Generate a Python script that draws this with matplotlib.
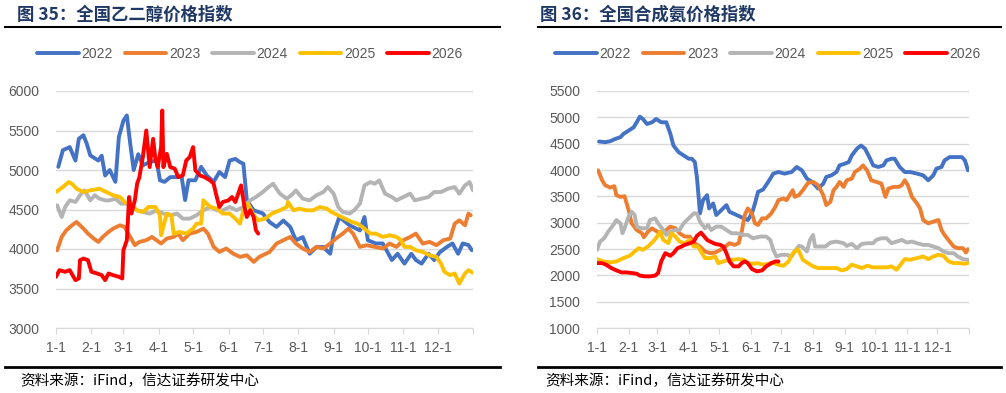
import numpy as np
import matplotlib
matplotlib.use("Agg")
import matplotlib.pyplot as plt

plt.rcParams['font.family'] = ['Liberation Sans', 'Noto Sans CJK SC', 'DejaVu Sans']

# x = day of year, y = index value
years = ['2022', '2023', '2024', '2025', '2026']
colors = ['#4472C4', '#ED7D31', '#B4B4B4', '#FFC000', '#FF0000']

month_days = [0, 31, 59, 90, 120, 151, 181, 212, 243, 273, 304, 334]
month_labels = ['1-1', '2-1', '3-1', '4-1', '5-1', '6-1', '7-1', '8-1', '9-1', '10-1', '11-1', '12-1']

# ---- 乙二醇 (ethylene glycol) ----
eg_2022 = [(2, 5040), (6, 5250), (12, 5290), (17, 5120), (20, 5395), (24, 5440), (27, 5330), (30, 5185),
           (37, 5120), (40, 5180), (43, 4930), (47, 5000), (52, 4850), (55, 5415), (59, 5625), (62, 5690),
           (65, 5330), (68, 5000), (72, 5200), (76, 5060), (82, 5100), (88, 5120), (91, 4870), (95, 4850),
           (100, 4910), (106, 4910), (110, 4910), (113, 4620), (116, 4870), (122, 4870), (127, 5040),
           (132, 4930), (138, 4850), (143, 4975), (148, 4910), (152, 5120), (157, 5140), (161, 5100),
           (164, 5080), (167, 4620), (173, 4490), (181, 4450), (187, 4340), (193, 4280), (199, 4360),
           (205, 4280), (210, 4110), (216, 4150), (222, 3940), (228, 4025), (234, 4025), (240, 3940),
           (243, 4195), (248, 4405), (257, 4300), (266, 4235), (270, 4405), (273, 4110), (280, 4070),
           (286, 4070), (294, 3860), (299, 3940), (305, 3815), (311, 3940), (315, 3860), (320, 3815),
           (326, 3940), (331, 3860), (336, 3960), (342, 4025), (347, 4070), (352, 3940), (356, 4070),
           (361, 4050), (364, 3985)]
eg_2023 = [(1, 3984), (5, 4153), (9, 4237), (14, 4300), (18, 4342), (24, 4258), (28, 4195), (33, 4132),
           (37, 4090), (41, 4153), (46, 4216), (50, 4258), (56, 4300), (60, 4279), (65, 4153), (69, 4048),
           (73, 4090), (79, 4111), (84, 4153), (88, 4111), (92, 4069), (97, 4132), (103, 4153), (107, 4195),
           (111, 4111), (117, 4195), (123, 4216), (129, 4258), (133, 4195), (138, 4027), (143, 3963),
           (149, 4006), (155, 3942), (161, 3900), (167, 3921), (173, 3837), (178, 3900), (187, 3963),
           (193, 4069), (199, 4111), (205, 4153), (210, 4069), (216, 4006), (222, 3963), (228, 4027),
           (234, 4006), (240, 4069), (245, 4132), (251, 4195), (256, 4258), (260, 4195), (266, 4027),
           (272, 4048), (279, 4027), (286, 4006), (292, 4069), (298, 4027), (304, 4111), (310, 4153),
           (315, 4195), (321, 4069), (327, 4090), (333, 4048), (339, 4111), (345, 4132), (349, 4321),
           (353, 4363), (358, 4300), (361, 4448), (363, 4427)]
eg_2024 = [(1, 4553), (5, 4405), (8, 4532), (12, 4616), (17, 4595), (21, 4680), (25, 4742), (30, 4616),
           (34, 4680), (38, 4637), (43, 4616), (47, 4616), (52, 4637), (57, 4574), (62, 4574), (66, 4532),
           (71, 4490), (76, 4469), (82, 4448), (88, 4490), (94, 4448), (100, 4427), (106, 4448), (111, 4384),
           (117, 4384), (123, 4427), (129, 4490), (135, 4532), (141, 4490), (146, 4490), (152, 4532),
           (158, 4490), (164, 4532), (170, 4616), (175, 4658), (181, 4721), (186, 4784), (190, 4826),
           (196, 4700), (202, 4637), (206, 4680), (210, 4742), (216, 4637), (222, 4616), (228, 4680),
           (234, 4721), (238, 4784), (243, 4700), (247, 4532), (251, 4469), (257, 4448), (261, 4490),
           (266, 4574), (270, 4805), (275, 4847), (279, 4826), (283, 4868), (288, 4700), (294, 4658),
           (298, 4616), (304, 4658), (310, 4700), (314, 4616), (320, 4637), (326, 4658), (331, 4721),
           (337, 4721), (343, 4763), (349, 4784), (353, 4700), (358, 4805), (362, 4847), (365, 4742)]
eg_2025 = [(0, 4721), (6, 4784), (11, 4847), (14, 4826), (18, 4763), (24, 4721), (30, 4742), (38, 4763),
           (44, 4721), (50, 4680), (56, 4658), (60, 4595), (66, 4553), (71, 4490), (76, 4469), (81, 4532),
           (87, 4532), (91, 4427), (92, 4174), (97, 4448), (101, 4427), (103, 4195), (108, 4216), (114, 4195),
           (120, 4258), (123, 4321), (127, 4321), (129, 4616), (135, 4532), (141, 4511), (146, 4448),
           (152, 4448), (157, 4384), (161, 4321), (164, 4490), (168, 4574), (173, 4427), (177, 4363),
           (183, 4384), (189, 4448), (196, 4490), (202, 4532), (203, 4595), (208, 4490), (213, 4511),
           (219, 4490), (225, 4490), (231, 4532), (237, 4511), (241, 4469), (247, 4427), (253, 4384),
           (259, 4342), (264, 4321), (270, 4258), (275, 4195), (280, 4195), (286, 4153), (292, 4174),
           (298, 4153), (302, 4111), (305, 4027), (310, 4027), (315, 3984), (321, 3963), (327, 3921),
           (333, 3900), (337, 3816), (340, 3711), (345, 3669), (349, 3690), (353, 3563), (358, 3690),
           (361, 3732), (365, 3698)]
eg_2026 = [(0, 3648), (3, 3732), (8, 3711), (12, 3732), (17, 3606), (20, 3627), (21, 3858), (24, 3879),
           (28, 3858), (31, 3711), (36, 3690), (40, 3669), (43, 3606), (46, 3690), (50, 3669), (55, 3648),
           (58, 3627), (59, 3984), (62, 4111), (64, 4658), (66, 4448), (69, 4616), (71, 4826), (73, 4910),
           (76, 5163), (79, 5500), (82, 5037), (85, 5395), (87, 5142), (89, 5037), (92, 5290), (93, 5753),
           (94, 5037), (97, 5205), (100, 5037), (104, 5016), (107, 4910), (111, 4931), (114, 5121),
           (117, 5163), (120, 5290), (122, 4995), (126, 4931), (130, 4910), (135, 4868), (138, 4826),
           (140, 4700), (143, 4532), (146, 4595), (151, 4616), (154, 4658), (157, 4595), (159, 4680),
           (162, 4805), (165, 4532), (167, 4405), (170, 4490), (173, 4405), (175, 4237), (177, 4195)]

# ---- 合成氨 (synthetic ammonia) ----
nh3_2022 = [(2, 4541), (8, 4528), (13, 4547), (18, 4591), (23, 4623), (26, 4686), (31, 4748), (36, 4811),
            (39, 4906), (42, 5013), (45, 4969), (49, 4874), (54, 4906), (58, 4969), (63, 4906), (68, 4906),
            (72, 4686), (75, 4465), (80, 4340), (85, 4277), (90, 4214), (93, 4214), (96, 4151), (98, 3868),
            (100, 3427), (101, 3176), (104, 3427), (108, 3522), (110, 3270), (114, 3364), (117, 3145),
            (122, 3239), (127, 3333), (130, 3207), (137, 3145), (144, 3082), (148, 3050), (152, 3176),
            (155, 3364), (158, 3585), (163, 3629), (168, 3774), (173, 3931), (178, 3962), (184, 3931),
            (191, 3962), (196, 4057), (201, 3994), (206, 3836), (211, 3774), (217, 3648), (222, 3742),
            (225, 3868), (230, 3899), (235, 3962), (238, 4088), (243, 4119), (247, 4151), (250, 4277),
            (255, 4403), (259, 4465), (263, 4403), (268, 4214), (271, 4088), (276, 4057), (281, 4088),
            (284, 4182), (289, 4214), (292, 4214), (297, 4057), (302, 3962), (307, 3962), (314, 3931),
            (320, 3899), (325, 3805), (330, 3899), (333, 4025), (338, 4057), (341, 4182), (346, 4245),
            (353, 4245), (358, 4245), (361, 4182), (364, 3994)]
nh3_2023 = [(1, 3994), (5, 3805), (8, 3711), (13, 3667), (17, 3692), (19, 3522), (23, 3490), (27, 3503),
            (31, 3239), (34, 2987), (39, 2861), (44, 2799), (46, 2723), (50, 2830), (54, 2893), (59, 2830),
            (63, 2799), (68, 2861), (72, 2924), (77, 2893), (81, 2799), (86, 2736), (91, 2736), (96, 2610),
            (101, 2547), (106, 2453), (111, 2421), (116, 2434), (121, 2484), (126, 2547), (130, 2610),
            (135, 2578), (139, 2610), (142, 2830), (145, 3145), (148, 3270), (152, 3176), (155, 2987),
            (158, 2956), (162, 3082), (166, 3082), (171, 3176), (175, 3302), (178, 3427), (183, 3459),
            (186, 3427), (189, 3522), (192, 3616), (194, 3490), (198, 3522), (202, 3616), (207, 3755),
            (212, 3774), (217, 3711), (222, 3522), (225, 3333), (229, 3396), (232, 3616), (235, 3679),
            (238, 3774), (242, 3679), (245, 3805), (250, 3836), (253, 3962), (258, 4025), (261, 4088),
            (265, 3994), (269, 3805), (274, 3774), (279, 3742), (283, 3490), (286, 3648), (291, 3679),
            (296, 3679), (299, 3711), (302, 3805), (305, 3711), (309, 3490), (314, 3364), (317, 3270),
            (320, 3050), (325, 2987), (330, 3019), (335, 3050), (338, 2861), (341, 2767), (346, 2641),
            (350, 2547), (354, 2516), (359, 2516), (362, 2434), (364, 2497)]
nh3_2024 = [(0, 2484), (3, 2641), (7, 2704), (11, 2830), (16, 2956), (19, 3050), (23, 2987), (25, 2799),
            (27, 2893), (31, 3113), (34, 3207), (37, 3145), (39, 2924), (44, 2893), (49, 2893), (52, 3050),
            (57, 3082), (60, 2987), (65, 2861), (68, 2767), (72, 2830), (77, 2861), (81, 2861), (85, 2987),
            (90, 3082), (95, 3176), (98, 3176), (101, 3019), (106, 2893), (109, 2956), (112, 2861),
            (117, 2924), (122, 2924), (127, 2861), (132, 2799), (137, 2799), (144, 2767), (148, 2767),
            (153, 2704), (160, 2736), (166, 2736), (170, 2673), (173, 2484), (176, 2358), (181, 2390),
            (186, 2390), (191, 2358), (194, 2453), (198, 2559), (201, 2547), (206, 2453), (209, 2673),
            (212, 2767), (214, 2547), (219, 2547), (224, 2547), (229, 2622), (235, 2641), (242, 2610),
            (245, 2559), (250, 2597), (255, 2516), (260, 2597), (265, 2610), (271, 2610), (274, 2673),
            (279, 2704), (284, 2704), (289, 2610), (294, 2641), (299, 2673), (304, 2622), (309, 2641),
            (314, 2610), (320, 2578), (325, 2578), (330, 2547), (335, 2516), (340, 2453), (345, 2421),
            (350, 2421), (354, 2358), (359, 2308), (364, 2295)]
nh3_2025 = [(0, 2308), (6, 2264), (13, 2245), (19, 2264), (26, 2327), (32, 2371), (37, 2453), (41, 2516),
            (45, 2484), (50, 2547), (55, 2641), (59, 2736), (62, 2830), (65, 2673), (70, 2610), (73, 2799),
            (77, 2736), (81, 2641), (86, 2610), (91, 2673), (95, 2547), (99, 2547), (103, 2421), (106, 2327),
            (111, 2327), (116, 2358), (119, 2232), (124, 2264), (129, 2295), (134, 2295), (139, 2308),
            (144, 2295), (148, 2232), (153, 2220), (158, 2232), (163, 2201), (168, 2220), (173, 2232),
            (178, 2201), (183, 2182), (188, 2264), (191, 2390), (194, 2453), (197, 2497), (199, 2421),
            (202, 2295), (207, 2232), (212, 2170), (217, 2138), (222, 2138), (229, 2138), (235, 2138),
            (240, 2094), (245, 2119), (250, 2201), (255, 2170), (260, 2138), (265, 2182), (271, 2151),
            (278, 2151), (284, 2151), (289, 2170), (294, 2107), (299, 2232), (302, 2308), (307, 2295),
            (314, 2327), (320, 2358), (325, 2308), (330, 2358), (335, 2390), (340, 2371), (345, 2264),
            (350, 2232), (356, 2232), (361, 2220), (364, 2232)]
nh3_2026 = [(0, 2232), (5, 2232), (9, 2201), (14, 2138), (19, 2094), (24, 2056), (29, 2056), (34, 2044),
            (39, 2031), (42, 1994), (47, 1981), (52, 1981), (57, 1994), (60, 2044), (63, 2264), (67, 2421),
            (72, 2371), (75, 2421), (79, 2516), (83, 2547), (86, 2578), (91, 2610), (95, 2641), (98, 2748),
            (102, 2811), (104, 2767), (108, 2673), (111, 2641), (116, 2597), (121, 2578), (124, 2547),
            (127, 2421), (130, 2264), (134, 2170), (139, 2170), (142, 2232), (145, 2264), (148, 2232),
            (152, 2119), (157, 2075), (162, 2094), (166, 2170), (171, 2232), (175, 2264), (178, 2264)]

eg_series = [eg_2022, eg_2023, eg_2024, eg_2025, eg_2026]
nh3_series = [nh3_2022, nh3_2023, nh3_2024, nh3_2025, nh3_2026]

W, H = 1006, 393
fig = plt.figure(figsize=(W / 100, H / 100), dpi=100)

navy = '#1F3864'
grey_txt = '#595959'
grid_c = '#D9D9D9'


def px(x0, y0, x1, y1):
    # pixel box (top-left origin) -> figure fraction rect
    return [x0 / W, 1 - y1 / H, (x1 - x0) / W, (y1 - y0) / H]


def draw(rect, series, ylim, yticks):
    ax = fig.add_axes(rect)
    for s, c, lab in zip(series, colors, years):
        d = np.array(s)
        ax.plot(d[:, 0], d[:, 1], color=c, lw=2.8, label=lab,
                solid_joinstyle='round', solid_capstyle='round')
    ax.set_xlim(0, 365)
    ax.set_ylim(*ylim)
    ax.set_yticks(yticks)
    ax.set_xticks(month_days + [365])
    ax.set_xticklabels(month_labels + [''])
    ax.grid(axis='y', color=grid_c, lw=1)
    ax.set_axisbelow(True)
    for sp in ['left', 'top', 'right']:
        ax.spines[sp].set_visible(False)
    ax.spines['bottom'].set_color(grid_c)
    ax.tick_params(axis='y', length=0, labelsize=10, labelcolor=grey_txt, pad=12)
    ax.tick_params(axis='x', length=4, color=grid_c, labelsize=10, labelcolor=grey_txt, pad=5)
    return ax


ax1 = draw(px(56, 91, 473, 328), eg_series, (3000, 6000), range(3000, 6001, 500))
ax2 = draw(px(597, 91, 969, 328), nh3_series, (1000, 5500), range(1000, 5501, 500))

for ax, cx in [(ax1, 250), (ax2, 768)]:
    h, l = ax.get_legend_handles_labels()
    fig.legend(h, l, loc='center', bbox_to_anchor=(cx / W, 1 - 54 / H), ncol=5, frameon=False,
               fontsize=10, labelcolor=grey_txt, handlelength=3.0, handletextpad=0.2,
               columnspacing=0.85)

# titles, rules and source notes
fig.text(17 / W, 1 - 15 / H, '图 35：全国乙二醇价格指数', fontsize=12.5, fontweight='bold',
         color=navy, va='center', family=['Noto Sans CJK SC'])
fig.text(540 / W, 1 - 15 / H, '图 36：全国合成氨价格指数', fontsize=12.5, fontweight='bold',
         color=navy, va='center', family=['Noto Sans CJK SC'])

for x0, x1 in [(5, 500), (538, 1001)]:
    fig.add_artist(plt.Line2D([x0 / W, x1 / W], [1 - 27 / H] * 2, color='black', lw=1.5))
    fig.add_artist(plt.Line2D([x0 / W, x1 / W], [1 - 367 / H] * 2, color='black', lw=2))

for x0 in [20, 545]:
    fig.text(x0 / W, 1 - 381 / H, '资料来源：iFind，信达证券研发中心', fontsize=10.5, style='italic',
             color='black', va='center', family=['Noto Sans CJK SC', 'DejaVu Sans'])

fig.savefig('out.png', dpi=100)
